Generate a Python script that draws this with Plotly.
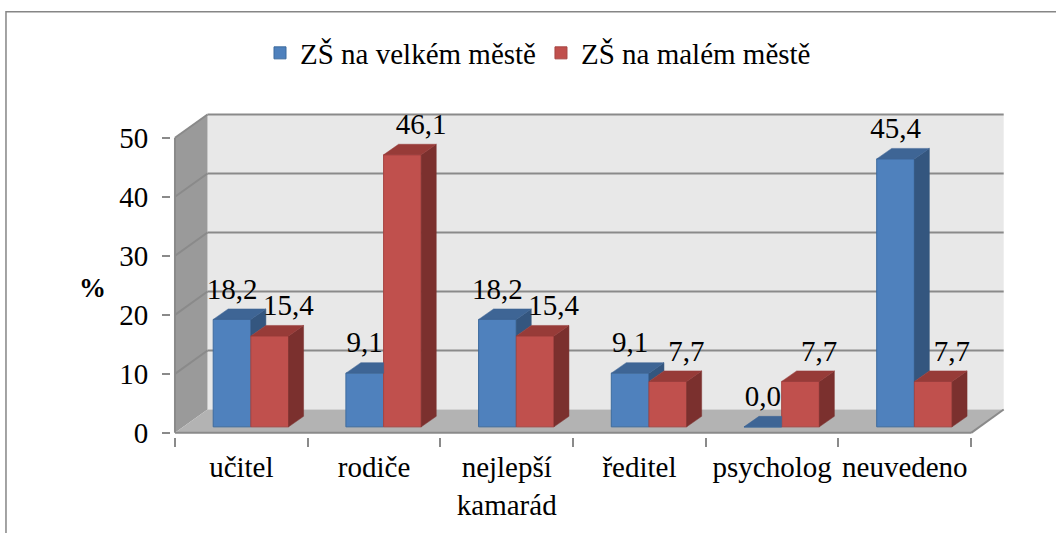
import plotly.graph_objects as go

# ---------------- data ----------------
categories = ["učitel", "rodiče", "nejlepší<br>kamarád", "ředitel", "psycholog", "neuvedeno"]
series_names = ["ZŠ na velkém městě", "ZŠ na malém městě"]
velke_mesto = [18.2, 9.1, 18.2, 9.1, 0.0, 45.4]
male_mesto = [15.4, 46.1, 15.4, 7.7, 7.7, 7.7]
y_ticks = [0, 10, 20, 30, 40, 50]
y_title = "%"

# ---------------- style ----------------
FONT = "Liberation Serif"
FS = 29
BLUE_FRONT, BLUE_TOP, BLUE_SIDE, BLUE_LINE = "#4f81bd", "#3e6595", "#34567f", "#3d6b9e"
RED_FRONT, RED_TOP, RED_SIDE, RED_LINE = "#c0504d", "#973b38", "#7b302e", "#a64542"
BACK_WALL, SIDE_WALL, FLOOR = "#e8e8e8", "#9a9a9a", "#b3b3b3"
GRID = "#8a8a8a"

W, H = 1056, 533
X_PX0, XPPU = 175.0, 132.7   # pixel of x=-0.5, pixels per category
Y_PX0, YPPU = 433.0, 5.9     # pixel of y=0, pixels per unit
XR = [-0.53, 5.77]
YR = [-0.7, 56.4]
WALL_DX, WALL_DY = 0.245, 3.95
BAR_DX, BAR_DY = 0.113, 1.78
LIFT = 1.02
BLUE_OFF, RED_OFF, BAR_W = -0.212, 0.072, 0.284

ml = X_PX0 + (XR[0] + 0.5) * XPPU
pw = (XR[1] - XR[0]) * XPPU
mr = W - ml - pw
mt = Y_PX0 - YR[1] * YPPU
ph = (YR[1] - YR[0]) * YPPU
mb = H - mt - ph


def pxx(px):
    return (px - ml) / pw


def pxy(py):
    return (H - mb - py) / ph


idx = list(range(len(categories)))
fig = go.Figure()

# front faces as bars
fig.add_trace(go.Bar(x=idx, y=velke_mesto, base=LIFT, offset=BLUE_OFF, width=BAR_W,
                     name=series_names[0], marker=dict(color=BLUE_FRONT, line=dict(color=BLUE_LINE, width=1)),
                     hoverinfo="skip"))
fig.add_trace(go.Bar(x=idx, y=male_mesto, base=LIFT, offset=RED_OFF, width=BAR_W,
                     name=series_names[1], marker=dict(color=RED_FRONT, line=dict(color=RED_LINE, width=1)),
                     hoverinfo="skip"))

# 3D faces (side and top), derived from the data values
bs_x, bs_y, bt_x, bt_y, rs_x, rs_y, rt_x, rt_y = [], [], [], [], [], [], [], []
for i, (vb, vr) in enumerate(zip(velke_mesto, male_mesto)):
    xl = i + BLUE_OFF
    xr = xl + BAR_W
    t = LIFT + vb
    if vb > vr:
        lo = LIFT + vr
        bs_x += [xr, xr + BAR_DX, xr + BAR_DX, xr, xr, None]
        bs_y += [lo, lo + BAR_DY, t + BAR_DY, t, lo, None]
        bt_x += [xl, xl + BAR_DX, xr + BAR_DX, xr, xl, None]
        bt_y += [t, t + BAR_DY, t + BAR_DY, t, t, None]
    else:
        bt_x += [xl, xl + BAR_DX, xr, xr, xl, None]
        bt_y += [t, t + BAR_DY, t + BAR_DY, t, t, None]
    rl = i + RED_OFF
    rr = rl + BAR_W
    tr = LIFT + vr
    rs_x += [rr, rr + BAR_DX, rr + BAR_DX, rr, rr, None]
    rs_y += [LIFT, LIFT + BAR_DY, tr + BAR_DY, tr, LIFT, None]
    rt_x += [rl, rl + BAR_DX, rr + BAR_DX, rr, rl, None]
    rt_y += [tr, tr + BAR_DY, tr + BAR_DY, tr, tr, None]

for xs, ys, col in [(bs_x, bs_y, BLUE_SIDE), (bt_x, bt_y, BLUE_TOP),
                    (rs_x, rs_y, RED_SIDE), (rt_x, rt_y, RED_TOP)]:
    fig.add_trace(go.Scatter(x=xs, y=ys, mode="lines", fill="toself", fillcolor=col,
                             line=dict(color=col, width=0.5), showlegend=False, hoverinfo="skip"))

# data labels
fmt = lambda v: f"{v:.1f}".replace(".", ",")
fig.add_trace(go.Scatter(x=[i + BLUE_OFF + BAR_W / 2 for i in idx],
                         y=[LIFT + v + 4.75 for v in velke_mesto],
                         text=[fmt(v) for v in velke_mesto], mode="text",
                         textfont=dict(family=FONT, size=FS, color="black"),
                         showlegend=False, hoverinfo="skip", cliponaxis=False))
fig.add_trace(go.Scatter(x=[i + RED_OFF + BAR_W / 2 + 0.14 for i in idx],
                         y=[LIFT + v + 4.75 for v in male_mesto],
                         text=[fmt(v) for v in male_mesto], mode="text",
                         textfont=dict(family=FONT, size=FS, color="black"),
                         showlegend=False, hoverinfo="skip", cliponaxis=False))

# walls, floor, gridlines
x_left, x_right = -0.5, len(categories) - 0.5
ymax = y_ticks[-1]
shapes = []
shapes.append(dict(type="path", xref="x", yref="y", layer="below", line=dict(width=0),
                   fillcolor=BACK_WALL,
                   path=f"M{x_left + WALL_DX},{WALL_DY} L{x_left + WALL_DX},{ymax + WALL_DY} "
                        f"L{x_right + WALL_DX},{ymax + WALL_DY} L{x_right + WALL_DX},{WALL_DY} Z"))
shapes.append(dict(type="path", xref="x", yref="y", layer="below", line=dict(width=0),
                   fillcolor=SIDE_WALL,
                   path=f"M{x_left},0 L{x_left},{ymax} L{x_left + WALL_DX},{ymax + WALL_DY} "
                        f"L{x_left + WALL_DX},{WALL_DY} Z"))
shapes.append(dict(type="path", xref="x", yref="y", layer="below", line=dict(width=0),
                   fillcolor=FLOOR,
                   path=f"M{x_left},0 L{x_right},0 L{x_right + WALL_DX},{WALL_DY} "
                        f"L{x_left + WALL_DX},{WALL_DY} Z"))
for v in y_ticks[1:]:
    shapes.append(dict(type="line", xref="x", yref="y", layer="below",
                       x0=x_left + WALL_DX, x1=x_right + WALL_DX, y0=v + WALL_DY, y1=v + WALL_DY,
                       line=dict(color=GRID, width=2)))
    shapes.append(dict(type="line", xref="x", yref="y", layer="below",
                       x0=x_left, x1=x_left + WALL_DX, y0=v, y1=v + WALL_DY,
                       line=dict(color=GRID, width=2)))
# floor outline / axes lines
shapes.append(dict(type="line", xref="x", yref="y", layer="below", x0=x_left, x1=x_right, y0=0, y1=0,
                   line=dict(color=GRID, width=2)))
shapes.append(dict(type="line", xref="x", yref="y", layer="below", x0=x_right, x1=x_right + WALL_DX,
                   y0=0, y1=WALL_DY, line=dict(color=GRID, width=2)))
shapes.append(dict(type="line", xref="x", yref="y", layer="below", x0=x_left, x1=x_left,
                   y0=0, y1=ymax, line=dict(color=GRID, width=2)))
# outer chart border
shapes.append(dict(type="rect", xref="paper", yref="paper", x0=pxx(6), x1=pxx(1070),
                   y0=pxy(545), y1=pxy(12), line=dict(color="#868686", width=1.5)))

fig.update_layout(
    width=W, height=H,
    margin=dict(l=ml, r=mr, t=mt, b=mb, autoexpand=False),
    paper_bgcolor="white", plot_bgcolor="white",
    barmode="overlay",
    shapes=shapes,
    font=dict(family=FONT, size=FS, color="black"),
    showlegend=True,
    legend=dict(orientation="h", xref="container", yref="container",
                x=538 / W, y=1 - 53 / H, xanchor="center", yanchor="middle",
                font=dict(family=FONT, size=FS, color="black"), bgcolor="rgba(0,0,0,0)",
                itemwidth=30),
    xaxis=dict(range=XR, tickvals=idx, ticktext=categories, ticks="", showgrid=False,
               zeroline=False, showline=False, ticklabelstandoff=10,
               tickfont=dict(family=FONT, size=FS, color="black"),
               minor=dict(tickvals=[i - 0.5 for i in range(len(categories) + 1)],
                          ticks="outside", ticklen=9, tickcolor=GRID, tickwidth=2, showgrid=False)),
    yaxis=dict(range=YR, tickvals=y_ticks, ticks="outside", ticklen=8, tickcolor=GRID, tickwidth=2,
               showgrid=False, zeroline=False, showline=False, ticklabelstandoff=8,
               tickfont=dict(family=FONT, size=FS, color="black")),
    annotations=[dict(xref="paper", yref="paper", x=pxx(93), y=pxy(288), text=f"<b>{y_title}</b>",
                      showarrow=False, font=dict(family=FONT, size=27, color="black"),
                      xanchor="center", yanchor="middle")],
)

fig.write_html("out.html", config={"displayModeBar": False},
               post_script="document.body.style.margin='0';")
